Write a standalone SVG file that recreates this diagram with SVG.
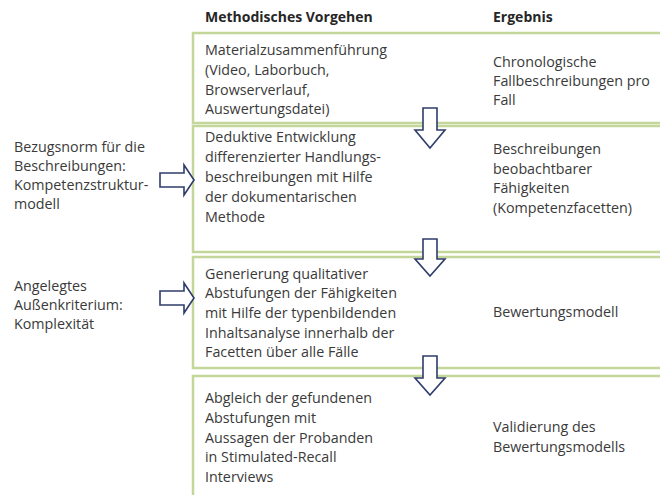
<svg xmlns="http://www.w3.org/2000/svg" width="660" height="495" viewBox="0 0 660 495">
<style>
.box{fill:#fff;stroke:#c4d79b;stroke-width:2.5}
.t{font-family:"Open Sans","Liberation Sans",sans-serif;font-size:14.3px;fill:#3a3a3a}
.h{font-family:"Open Sans","Liberation Sans",sans-serif;font-size:14px;font-weight:bold;fill:#262626}
.arr{fill:#fff;stroke:#2e3c6b;stroke-width:1.6;stroke-linejoin:miter}
</style>
<rect width="660" height="495" fill="#fff"/>
<g id="headers">
<text class="h" x="205" y="22">Methodisches Vorgehen</text>
<text class="h" x="493" y="22">Ergebnis</text>
</g>
<g id="step1">
<rect class="box" x="193" y="33" width="470" height="90"/>
<text class="t" x="205" y="55">Materialzusammenführung</text>
<text class="t" x="205" y="75">(Video, Laborbuch,</text>
<text class="t" x="205" y="95">Browserverlauf,</text>
<text class="t" x="205" y="114">Auswertungsdatei)</text>
<text class="t" x="493" y="67">Chronologische</text>
<text class="t" x="493" y="86">Fallbeschreibungen pro</text>
<text class="t" x="493" y="105">Fall</text>
</g>
<g id="step2">
<rect class="box" x="193" y="126" width="470" height="126"/>
<text class="t" x="205" y="142">Deduktive Entwicklung</text>
<text class="t" x="205" y="162">differenzierter Handlungs-</text>
<text class="t" x="205" y="182">beschreibungen mit Hilfe</text>
<text class="t" x="205" y="202">der dokumentarischen</text>
<text class="t" x="205" y="222">Methode</text>
<text class="t" x="493" y="154">Beschreibungen</text>
<text class="t" x="493" y="174">beobachtbarer</text>
<text class="t" x="493" y="193">Fähigkeiten</text>
<text class="t" x="493" y="213">(Kompetenzfacetten)</text>
</g>
<g id="step3">
<rect class="box" x="193" y="257" width="470" height="111"/>
<text class="t" x="205" y="279">Generierung qualitativer</text>
<text class="t" x="205" y="298">Abstufungen der Fähigkeiten</text>
<text class="t" x="205" y="318">mit Hilfe der typenbildenden</text>
<text class="t" x="205" y="338">Inhaltsanalyse innerhalb der</text>
<text class="t" x="205" y="357">Facetten über alle Fälle</text>
<text class="t" x="493" y="317">Bewertungsmodell</text>
</g>
<g id="step4">
<rect class="box" x="193" y="376" width="470" height="130"/>
<text class="t" x="205" y="403">Abgleich der gefundenen</text>
<text class="t" x="205" y="423">Abstufungen mit</text>
<text class="t" x="205" y="443">Aussagen der Probanden</text>
<text class="t" x="205" y="462">in Stimulated-Recall</text>
<text class="t" x="205" y="482">Interviews</text>
<text class="t" x="493" y="432">Validierung des</text>
<text class="t" x="493" y="452">Bewertungsmodells</text>
</g>
<g id="norm">
<text class="t" x="14" y="152">Bezugsnorm für die</text>
<text class="t" x="14" y="171">Beschreibungen:</text>
<text class="t" x="14" y="190">Kompetenzstruktur-</text>
<text class="t" x="14" y="209">modell</text>
</g>
<g id="criterion">
<text class="t" x="14" y="291">Angelegtes</text>
<text class="t" x="14" y="310">Außenkriterium:</text>
<text class="t" x="14" y="329">Komplexität</text>
</g>
<g id="connectors">
<path class="arr" d="M423,108 H437 V130 H445 L430,148 L415,130 H423 Z"/>
<path class="arr" d="M423,239 H437 V259 H445 L430,276 L415,259 H423 Z"/>
<path class="arr" d="M423,356 H437 V378 H445 L430,395 L415,378 H423 Z"/>
<path class="arr" d="M160,173 H184 V165 L194,180 L184,195 V187 H160 Z"/>
<path class="arr" d="M160,291 H184 V283 L194,298 L184,313 V305 H160 Z"/>
</g>
</svg>
